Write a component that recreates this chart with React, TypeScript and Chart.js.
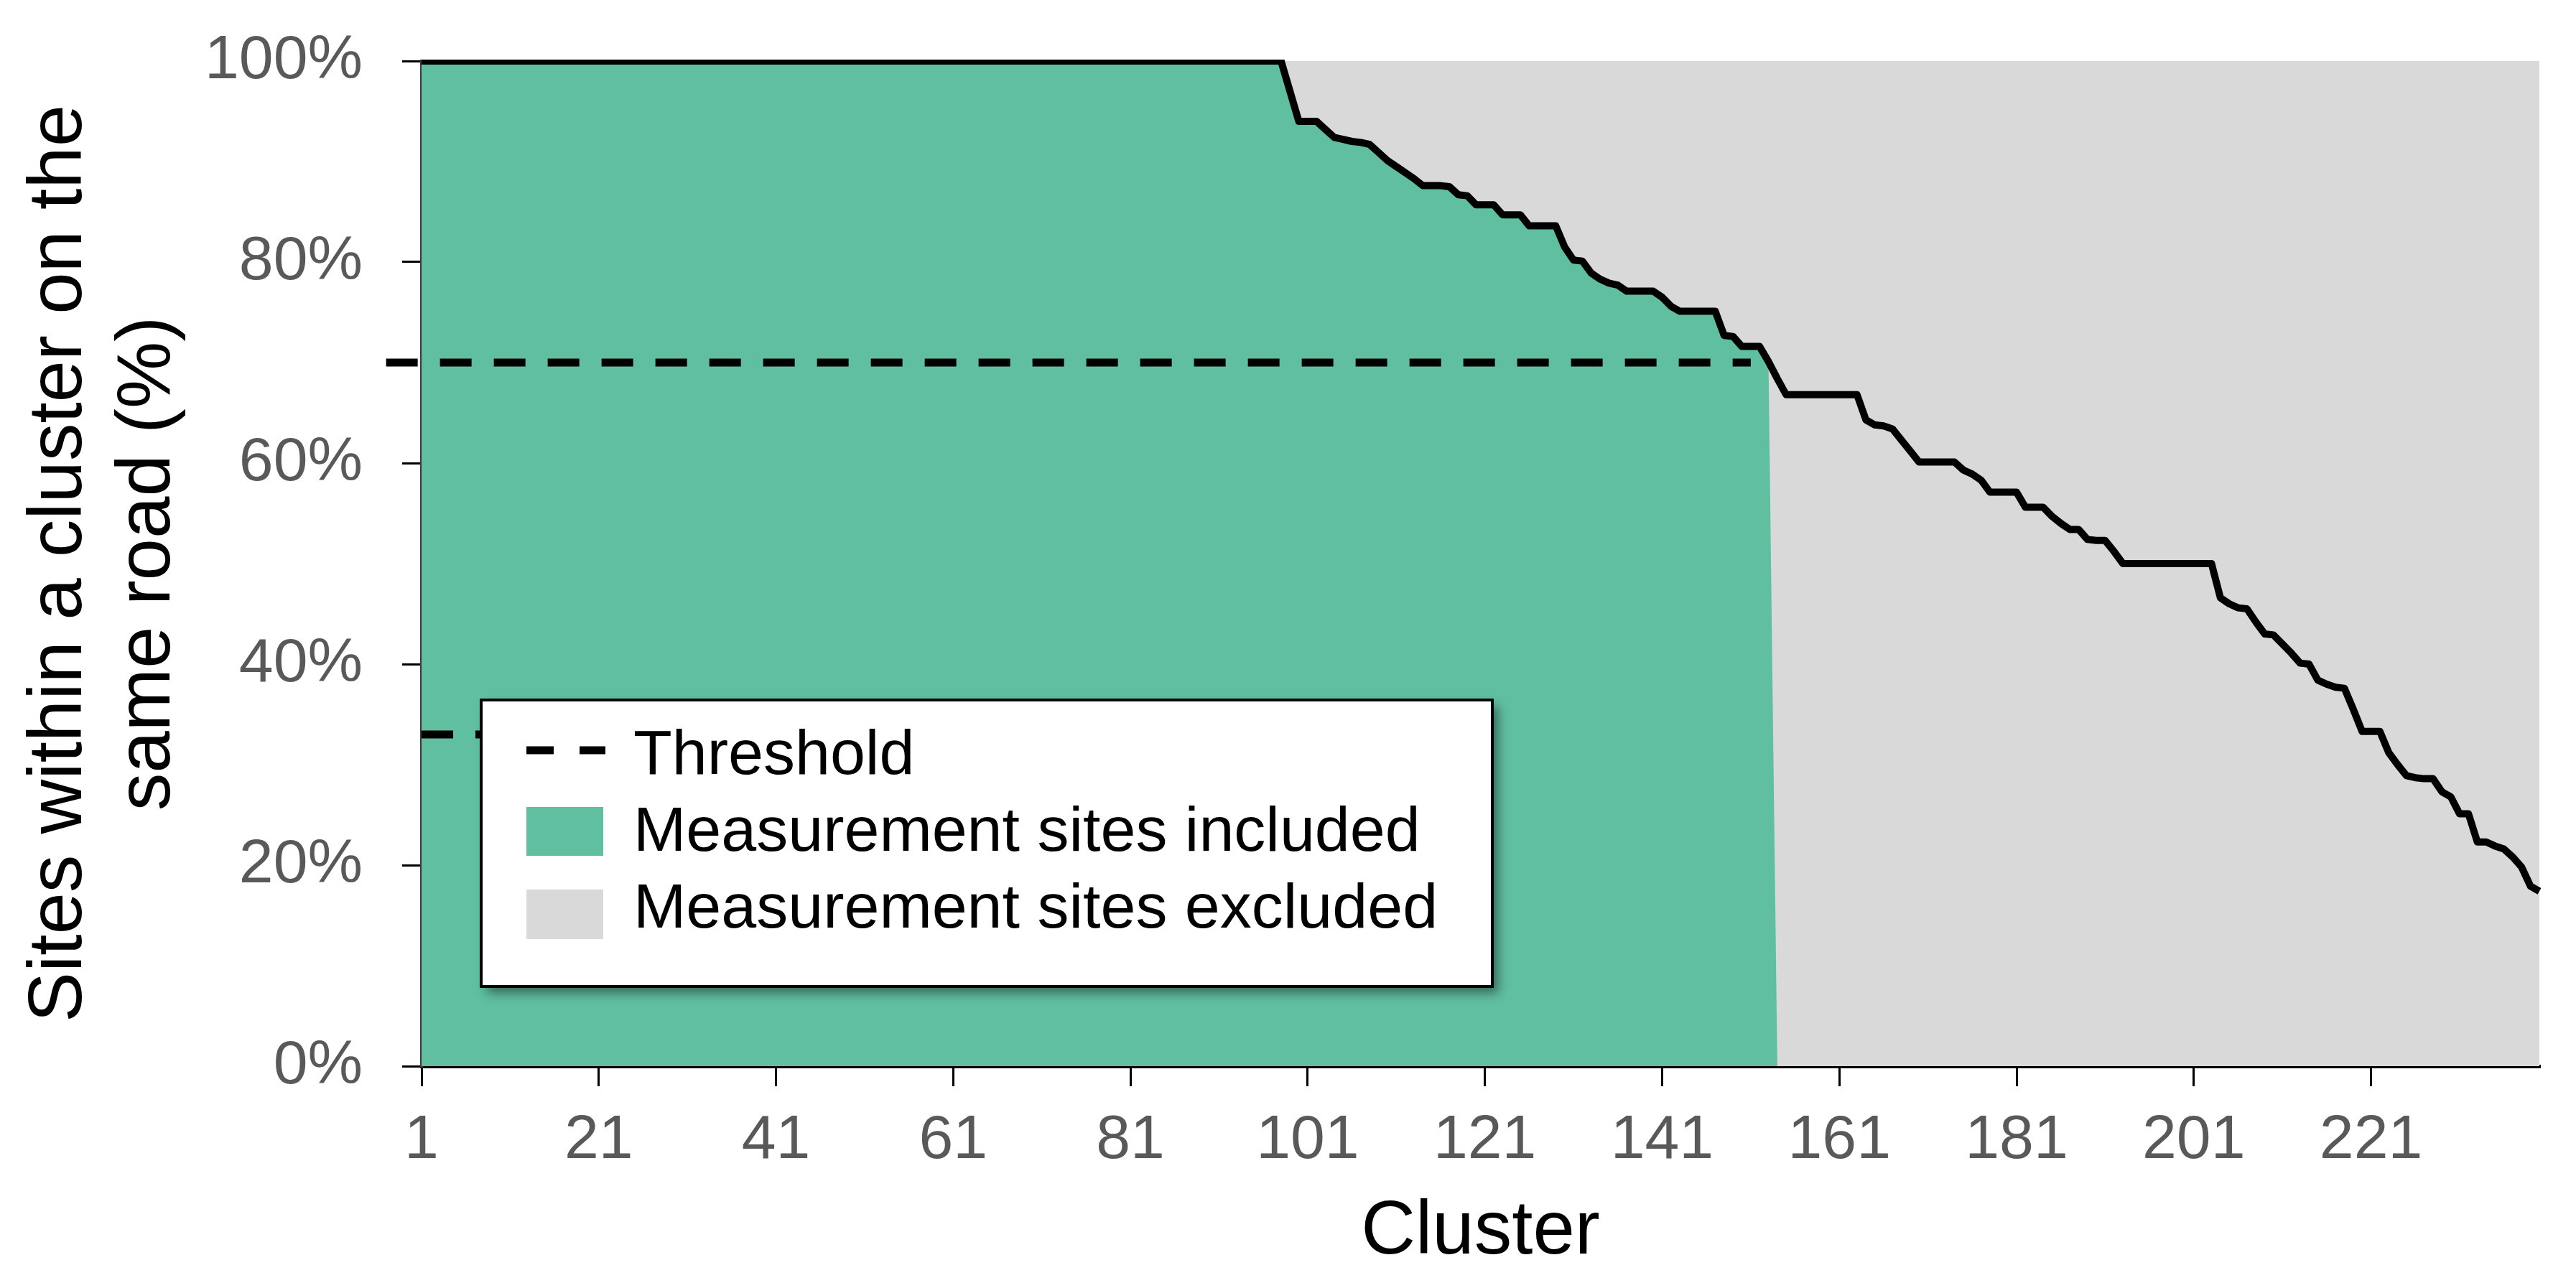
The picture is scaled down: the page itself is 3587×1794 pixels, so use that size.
import React, { useEffect, useRef } from 'react';
import { Chart, registerables } from 'chart.js';

Chart.register(...registerables);

// ---------------- data ----------------
// Share (%) of sites within a cluster that lie on the same road, clusters sorted descending
const shareOnSameRoad: number[] = [
  100, 100, 100, 100, 100, 100, 100, 100, 100, 100, 100, 100, 100, 100, 100, 100, 100, 100, 100, 100,
  100, 100, 100, 100, 100, 100, 100, 100, 100, 100, 100, 100, 100, 100, 100, 100, 100, 100, 100, 100,
  100, 100, 100, 100, 100, 100, 100, 100, 100, 100, 100, 100, 100, 100, 100, 100, 100, 100, 100, 100,
  100, 100, 100, 100, 100, 100, 100, 100, 100, 100, 100, 100, 100, 100, 100, 100, 100, 100, 100, 100,
  100, 100, 100, 100, 100, 100, 100, 100, 100, 100, 100, 100, 100, 100, 100, 100, 100, 100, 97, 94,
  94, 94, 93.2, 92.4, 92.2, 92.0, 91.9, 91.7, 90.9, 90.1, 89.5, 88.9, 88.3, 87.6, 87.6, 87.6, 87.5, 86.7, 86.6, 85.7,
  85.7, 85.7, 84.7, 84.7, 84.7, 83.6, 83.6, 83.6, 83.6, 81.5, 80.2, 80.1, 78.9, 78.3, 77.9, 77.7, 77.1, 77.1, 77.1, 77.1,
  76.5, 75.6, 75.1, 75.1, 75.1, 75.1, 75.1, 72.7, 72.6, 71.6, 71.6, 71.6, 70.1, 68.4, 66.8, 66.8, 66.8, 66.8, 66.8, 66.8,
  66.8, 66.8, 66.8, 64.3, 63.8, 63.7, 63.4, 62.3, 61.2, 60.1, 60.1, 60.1, 60.1, 60.1, 59.3, 58.9, 58.3, 57.1, 57.1, 57.1,
  57.1, 55.6, 55.6, 55.6, 54.7, 54.0, 53.4, 53.4, 52.4, 52.3, 52.3, 51.2, 50, 50, 50, 50, 50, 50, 50, 50,
  50, 50, 50, 46.6, 46.0, 45.6, 45.5, 44.2, 43.0, 42.9, 42.0, 41.1, 40.1, 40.0, 38.4, 38.0, 37.7, 37.6, 35.5, 33.3,
  33.3, 33.3, 31.2, 30.0, 28.9, 28.7, 28.6, 28.6, 27.3, 26.8, 25.1, 25.1, 22.3, 22.3, 21.9, 21.6, 20.8, 19.8, 17.9, 17.4,
];

// cluster numbers 1..N (category index of each value)
const clusters: number[] = shareOnSameRoad.map((_, i) => i + 1);

// the first clusters (share >= threshold) are included
const includedCount = 153;
const fullShare = 100;

const thresholdValue = 70;
const thresholdFrom = -3;
const thresholdTo = 151;

// short stray dashed segment visible at ~33 % (mostly hidden behind the legend)
const strayDashValue = 33;
const strayDashFrom = 1;
const strayDashTo = 100;

const xTickValues = [1, 21, 41, 61, 81, 101, 121, 141, 161, 181, 201, 221];
const yTickValues = [0, 20, 40, 60, 80, 100];

const legendLabels = ['Threshold', 'Measurement sites included', 'Measurement sites excluded'];
const yTitle = ['Sites within a cluster on the', 'same road (%)'];
const xTitle = 'Cluster';

// ---------------- styles ----------------
const GREEN = '#60BFA0';
const GREY = '#D9D9D9';
const FONT = "'Liberation Sans', Arial, sans-serif";

const CANVAS_W = 3571;
const CANVAS_H = 1778;

const boxLegendPlugin = {
  id: 'boxLegend',
  afterDraw(chart: any, _args: any, opts: any) {
    const { ctx, chartArea } = chart;
    const bx = chartArea.left + opts.offsetX;
    const by = chartArea.top + opts.offsetY;
    const bw = opts.width;
    const bh = opts.height;
    ctx.save();
    // shadow + white box
    ctx.shadowColor = 'rgba(0,0,0,0.45)';
    ctx.shadowBlur = 14;
    ctx.shadowOffsetX = 8;
    ctx.shadowOffsetY = 9;
    ctx.fillStyle = '#ffffff';
    ctx.fillRect(bx, by, bw, bh);
    ctx.shadowColor = 'rgba(0,0,0,0)';
    ctx.shadowBlur = 0;
    ctx.shadowOffsetX = 0;
    ctx.shadowOffsetY = 0;
    ctx.lineWidth = 4;
    ctx.strokeStyle = '#000';
    ctx.strokeRect(bx, by, bw, bh);

    const sx = bx + 63;
    // threshold sample
    ctx.beginPath();
    ctx.setLineDash([38, 36]);
    ctx.lineCap = 'butt';
    ctx.lineWidth = 11;
    ctx.strokeStyle = '#000';
    ctx.moveTo(sx, by + 70);
    ctx.lineTo(sx + 110, by + 70);
    ctx.stroke();
    ctx.setLineDash([]);
    // swatches
    ctx.fillStyle = GREEN;
    ctx.fillRect(sx, by + 149, 107, 68);
    ctx.fillStyle = GREY;
    ctx.fillRect(sx, by + 264, 107, 69);

    ctx.fillStyle = '#000';
    ctx.font = `88px ${FONT}`;
    ctx.textAlign = 'left';
    ctx.textBaseline = 'alphabetic';
    const tx = bx + 212;
    ctx.fillText(legendLabels[0], tx, by + 103);
    ctx.fillText(legendLabels[1], tx, by + 210);
    ctx.fillText(legendLabels[2], tx, by + 317);
    ctx.restore();
  },
};

export default function App() {
  const canvasRef = useRef<HTMLCanvasElement | null>(null);

  useEffect(() => {
    document.body.style.overflow = 'hidden';
    const canvas = canvasRef.current;
    if (!canvas) return;
    Chart.defaults.font.family = FONT;

    const linePoints = clusters.map((c, i) => ({ x: c, y: shareOnSameRoad[i] }));
    const includedPoints = clusters.map((c, i) => ({ x: c, y: i < includedCount ? shareOnSameRoad[i] : 0 }));
    const allPoints = clusters.map((c) => ({ x: c, y: fullShare }));

    const chart = new Chart(canvas, {
      type: 'line',
      data: {
        datasets: [
          {
            label: 'Share on same road',
            data: linePoints,
            borderColor: '#000',
            borderWidth: 10,
            borderJoinStyle: 'round',
            borderCapStyle: 'butt',
            pointRadius: 0,
            fill: false,
            tension: 0,
            order: 0,
            clip: { left: 6, right: 6, top: 2, bottom: 6 },
          },
          {
            label: legendLabels[0],
            data: [
              { x: thresholdFrom, y: thresholdValue },
              { x: thresholdTo, y: thresholdValue },
            ],
            borderColor: '#000',
            borderWidth: 11,
            borderDash: [44, 31],
            borderCapStyle: 'butt',
            pointRadius: 0,
            fill: false,
            order: 1,
            clip: false,
          },
          {
            label: 'stray',
            data: [
              { x: strayDashFrom, y: strayDashValue },
              { x: strayDashTo, y: strayDashValue },
            ],
            borderColor: '#000',
            borderWidth: 11,
            borderDash: [44, 31],
            borderCapStyle: 'butt',
            pointRadius: 0,
            fill: false,
            order: 1,
          },
          {
            label: legendLabels[1],
            data: includedPoints,
            borderColor: 'rgba(0,0,0,0)',
            borderWidth: 0,
            backgroundColor: GREEN,
            pointRadius: 0,
            fill: 'origin',
            tension: 0,
            order: 2,
          },
          {
            label: legendLabels[2],
            data: allPoints,
            borderColor: 'rgba(0,0,0,0)',
            borderWidth: 0,
            backgroundColor: GREY,
            pointRadius: 0,
            fill: 'origin',
            tension: 0,
            order: 3,
          },
        ],
      },
      options: {
        animation: false,
        responsive: false,
        maintainAspectRatio: false,
        devicePixelRatio: 1,
        layout: { padding: { top: 77, right: 43, bottom: 0, left: 0 } },
        plugins: {
          legend: { display: false },
          tooltip: { enabled: false },
          boxLegend: { offsetX: 83, offsetY: 890, width: 1408, height: 399 },
        } as any,
        scales: {
          x: {
            type: 'linear',
            min: 1,
            max: clusters.length,
            afterBuildTicks: (axis: any) => {
              axis.ticks = xTickValues.map((v) => ({ value: v }));
            },
            afterFit: (axis: any) => {
              axis.height = 301;
              axis.paddingLeft = 0;
              axis.paddingRight = 0;
            },
            grid: { drawOnChartArea: false, drawTicks: true, tickLength: 28, color: '#000', lineWidth: 3 },
            border: { display: true, color: '#000', width: 5 },
            ticks: {
              color: '#595959',
              font: { size: 86 },
              padding: 25,
              maxRotation: 0,
              autoSkip: false,
              callback: (v: any) => String(v),
            },
            title: {
              display: true,
              text: xTitle,
              color: '#000',
              font: { size: 105, lineHeight: 1.17 },
              padding: { top: 0, bottom: 8 },
            },
          },
          y: {
            type: 'linear',
            min: 0,
            max: 100,
            afterBuildTicks: (axis: any) => {
              axis.ticks = yTickValues.map((v) => ({ value: v }));
            },
            afterFit: (axis: any) => {
              axis.width = 579;
              axis.paddingTop = 0;
              axis.paddingBottom = 0;
            },
            grid: { drawOnChartArea: false, drawTicks: true, tickLength: 27, color: '#000', lineWidth: 3 },
            border: { display: true, color: '#3a3a3a', width: 4 },
            ticks: {
              color: '#595959',
              font: { size: 86 },
              padding: 55,
              callback: (v: any) => `${v}%`,
            },
            title: {
              display: true,
              text: yTitle,
              color: '#000',
              font: { size: 105, lineHeight: 1.17 },
              padding: { top: 15, bottom: 0 },
            },
          },
        },
      } as any,
      plugins: [boxLegendPlugin],
    });

    return () => {
      chart.destroy();
    };
  }, []);

  return (
    <canvas
      ref={canvasRef}
      width={CANVAS_W}
      height={CANVAS_H}
      style={{ display: 'block', width: CANVAS_W, height: CANVAS_H }}
    />
  );
}
